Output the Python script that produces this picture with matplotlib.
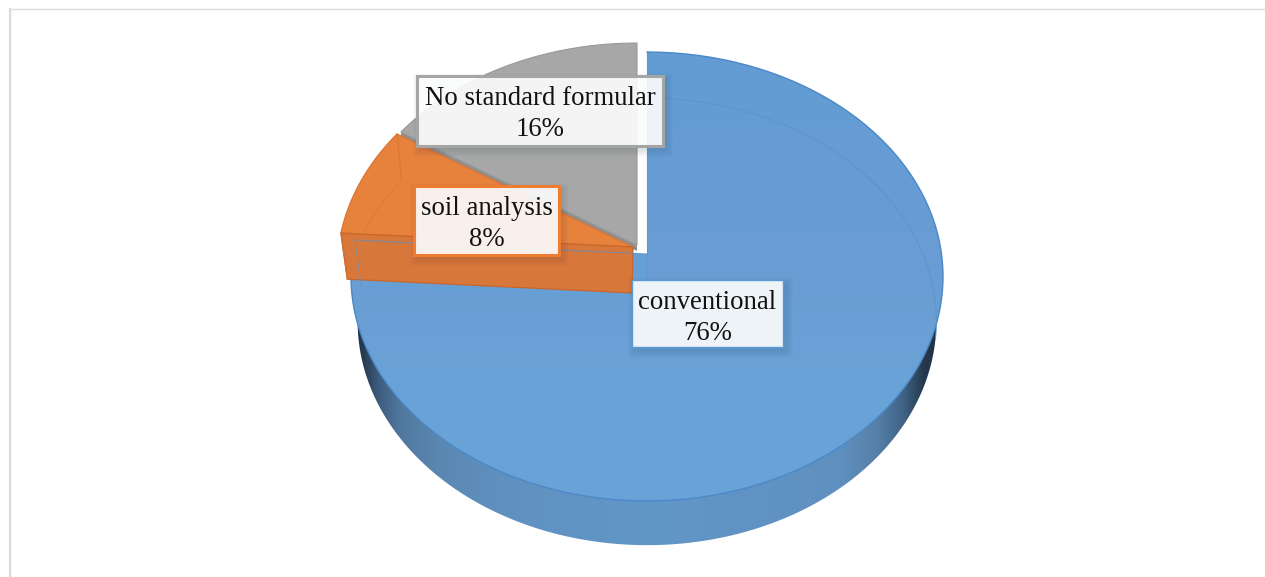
import matplotlib
matplotlib.use('Agg')
import matplotlib.pyplot as plt
import numpy as np
from matplotlib.colors import LinearSegmentedColormap
from matplotlib.patches import Polygon, Rectangle

categories = ['conventional', 'soil analysis', 'No standard formular']
shares = [76, 8, 16]
share_labels = ['76%', '8%', '16%']

W, H = 1265, 577
# slice tip on the top plane, per slice (exploded pie)
tips = [(647, 254), (633, 247), (637, 245)]
DEPTH = 46
# projective circle: width, height and foreshortening of the top and bottom planes
TOP = (294.5, 222.2, 0.1002)
BOTTOM = (288.0, 221.5, 0.0965)


def rim(theta, tip, plane=TOP, drop=0):
    # theta in degrees clockwise from 12 o'clock
    a, b, k = plane
    t = np.radians(theta)
    u, v = np.sin(t), np.cos(t)
    w = 1 + k * v
    return np.column_stack([tip[0] + a * u / w, tip[1] + drop - b * v / w])


def arc(start, end, tip, plane=TOP, drop=0):
    return rim(np.linspace(start, end, 200), tip, plane, drop)


def label_box(ax, x0, y0, x1, y1, edge, lw, name, pct):
    # soft drop shadow built from stacked translucent rectangles
    for grow in range(8, 0, -1):
        ax.add_patch(Rectangle((x0 - grow + 4, y0 - grow + 5), x1 - x0 + 2 * grow - 2, y1 - y0 + 2 * grow - 2,
                               fc='#20304a', ec='none', alpha=0.016, zorder=20))
    ax.add_patch(Rectangle((x0, y0), x1 - x0, y1 - y0, fc=(1, 1, 1, 0.9), ec=edge, lw=lw, zorder=21))
    xc = (x0 + x1) / 2
    ax.text(xc, y0 + 29, name, ha='center', va='baseline', fontsize=19.3, color='#111111', zorder=22)
    ax.text(xc, y0 + 60.5, pct, ha='center', va='baseline', fontsize=19.3, color='#111111', zorder=22)


plt.rcParams['font.family'] = ['Liberation Serif', 'DejaVu Serif']
fig = plt.figure(figsize=(W / 100, H / 100), dpi=100)
ax = fig.add_axes([0, 0, 1, 1])
ax.set_xlim(0, W)
ax.set_ylim(H, 0)
ax.axis('off')

# chart frame, only the top and left sides fall inside the image
ax.add_patch(Rectangle((10, 8.5), W + 20, H + 20, fc='white', ec='#dcdcdc', lw=1.0, zorder=0))
ax.plot([10, 10], [8.5, H + 2], color='#dcdcdc', lw=1.6, zorder=0)

edges = np.cumsum([0] + shares) * 3.6
blue_tip, orange_tip, gray_tip = tips

# gray slice, sits behind the others
gray_arc = arc(edges[2], edges[3], gray_tip)
gray_top = np.vstack([gray_arc, [gray_tip]])
gray_wall = np.array([gray_arc[0], gray_tip, [gray_tip[0], gray_tip[1] + 6], gray_arc[0] + [0, 6]])
ax.add_patch(Polygon(gray_wall, fc='#8f8f8f', ec='none', zorder=2))
ax.add_patch(Polygon(gray_top, fc='#a7a7a7', ec='#999999', lw=0.8, zorder=3))

# blue side band, darker towards both ends
blue_top_arc = arc(edges[0], edges[1], blue_tip)
blue_low_arc = arc(edges[0], edges[1], blue_tip, BOTTOM, DEPTH)
front = arc(92, 268, blue_tip)
front_low = arc(92, 268, blue_tip, BOTTOM, DEPTH)
band = Polygon(np.vstack([front, front_low[::-1]]), fc='none', ec='none', transform=ax.transData)
ax.add_patch(band)
band_cmap = LinearSegmentedColormap.from_list('band', [
    (0.0, '#1d2f45'), (0.017, '#24374b'), (0.047, '#3d5d7e'), (0.084, '#50789e'), (0.15, '#5b88b2'),
    (0.25, '#6090bf'), (0.5, '#6297c9'), (0.825, '#5f90c0'), (0.89, '#567fa8'), (0.934, '#3f6385'),
    (0.968, '#25384c'), (1.0, '#1d2f45')])
img = ax.imshow(np.linspace(0, 1, 512)[None, :], cmap=band_cmap, extent=(350, 944, 560, 270),
                aspect='auto', zorder=4)
img.set_clip_path(band)
ax.set_xlim(0, W)
ax.set_ylim(H, 0)

# blue top surface
blue_top = Polygon(np.vstack([blue_top_arc, [blue_tip]]), fc='none', ec='none')
ax.add_patch(blue_top)
blue_cmap = LinearSegmentedColormap.from_list('blue_top', ['#629cd4', '#659cd3', '#6a9dd3', '#69a3d7', '#69a2d6'])
img = ax.imshow(np.linspace(0, 1, 256)[:, None], cmap=blue_cmap, extent=(340, 950, 505, 50),
                aspect='auto', zorder=5)
img.set_clip_path(blue_top)
ax.set_xlim(0, W)
ax.set_ylim(H, 0)
ax.plot(*blue_top_arc.T, color='#4a88c8', lw=1, zorder=6)
# end wall of the blue slice and the see-through bottom rim
blue_end = blue_top_arc[-1]
ax.add_patch(Polygon([blue_end, blue_tip, (blue_tip[0], blue_tip[1] + DEPTH), blue_low_arc[-1]],
                     fc='#669fd5', ec='none', zorder=5))
ax.plot(*arc(4, 100, blue_tip, BOTTOM, DEPTH).T, color='#5a94d0', lw=0.7, zorder=6)
ax.plot([blue_tip[0], blue_tip[0]], [blue_tip[1], blue_tip[1] + DEPTH], color='#5f9ad3', lw=0.8, zorder=6)
ax.plot([blue_tip[0], blue_tip[0]], [52, blue_tip[1]], color='#5b96d2', lw=0.8, zorder=6)

# orange slice lies over the blue one
orange_arc = arc(edges[1], edges[2], orange_tip)
orange_low = arc(edges[1], edges[2], orange_tip, BOTTOM, DEPTH)
orange_bottom_tip = (orange_tip[0] - 1, orange_tip[1] + DEPTH)
ax.add_patch(Polygon(np.vstack([orange_arc, [orange_tip]]), fc='#e6823c', ec='#dc7430', lw=0.9, zorder=7))
ax.add_patch(Polygon([orange_arc[0], orange_tip, orange_bottom_tip, orange_low[0]],
                     fc='#d8773a', ec='#c9662a', lw=0.9, zorder=8))
ax.plot(*orange_low.T, color='#dc7a38', lw=0.7, zorder=8)
ax.plot([orange_arc[-1][0], orange_low[-1][0]], [orange_arc[-1][1], orange_low[-1][1]],
        color='#d97632', lw=0.8, zorder=8)
ax.plot([orange_arc[0][0], orange_low[0][0]], [orange_arc[0][1], orange_low[0][1]],
        color='#cf6f30', lw=0.8, zorder=8)
# blue edge shows faintly through the orange wall
ax.plot([blue_end[0], blue_tip[0]], [blue_end[1], blue_tip[1]], color='#5b8fc8', lw=0.9, alpha=0.65, zorder=9)
ax.plot([blue_end[0], blue_low_arc[-1][0]], [blue_end[1], blue_low_arc[-1][1]], color='#6f8fb5', lw=0.7, alpha=0.8, zorder=9)

label_box(ax, 417, 76, 663, 146, '#a5a5a5', 2.2, categories[2], share_labels[2])
label_box(ax, 414, 186, 559, 255, '#ed7d31', 2.2, categories[1], share_labels[1])
label_box(ax, 632, 280, 783, 347, '#5b9bd5', 1.0, categories[0], share_labels[0])

fig.savefig('out.png', dpi=100)
plt.close(fig)
